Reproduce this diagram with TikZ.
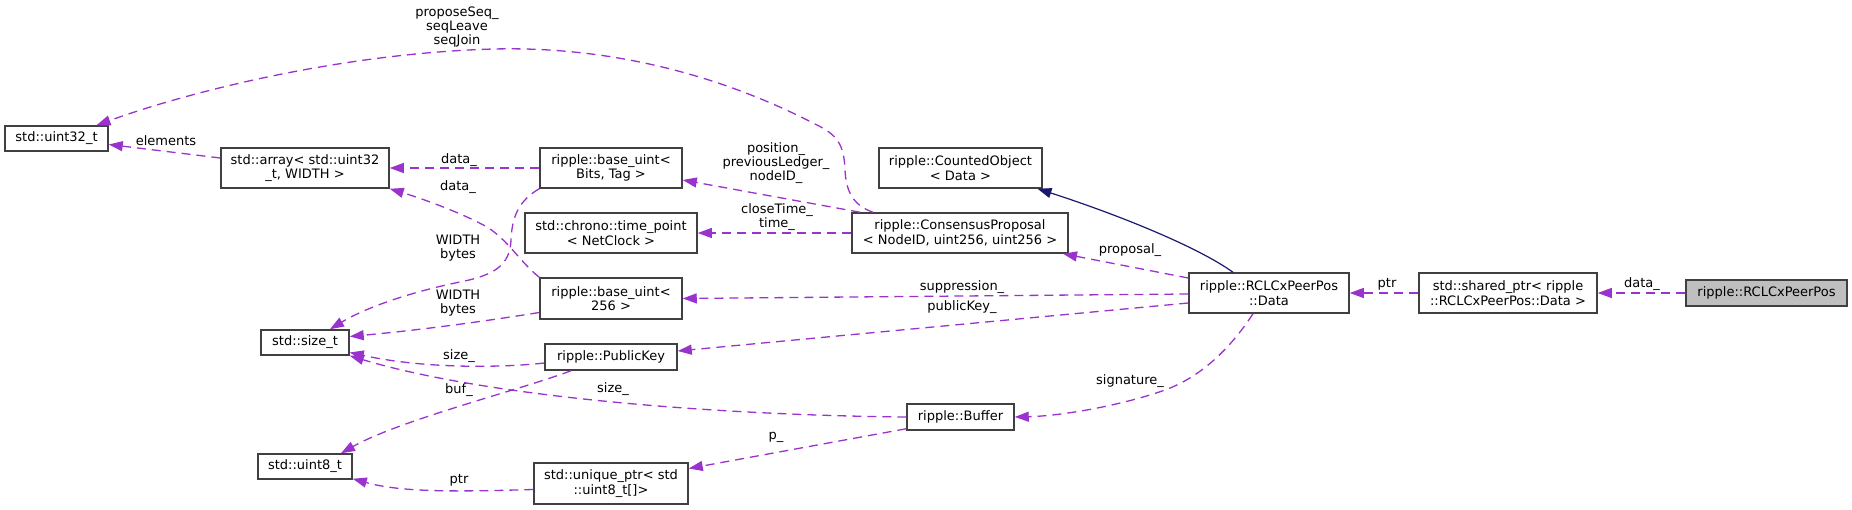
\documentclass[tikz,border=0pt]{standalone}
\usepackage{fontspec}
\setmainfont{DejaVu Sans}
\usetikzlibrary{arrows.meta,calc}
\definecolor{edgepurple}{HTML}{9A32CD}
\definecolor{navyline}{HTML}{191970}
\definecolor{boxline}{HTML}{404040}
\definecolor{mainfill}{HTML}{BFBFBF}
\tikzset{
  cls/.style={draw=boxline, line width=1.5pt, fill=white, rectangle, align=center, inner sep=0pt,
    font=\fontsize{13}{14.5}\selectfont},
  lbl/.style={align=center, inner sep=0pt, font=\fontsize{13}{14}\selectfont},
  use/.style={draw=edgepurple, line width=1.3pt, dash pattern=on 9pt off 6pt,
    -{Triangle[length=14pt,width=10pt,fill=edgepurple]}},
  inh/.style={draw=navyline, line width=1.2pt,
    -{Triangle[length=14pt,width=10pt,fill=navyline]}}
}
\begin{document}
\begin{tikzpicture}[x=1pt,y=-1pt]
\useasboundingbox (0,0) rectangle (1852,510);
% classes
\node[cls, minimum width=103pt, minimum height=25pt] (u32) at (56.5,138.5) {std::uint32\_t};
\node[cls, minimum width=168pt, minimum height=40pt] (arr) at (305,168) {std::array< std::uint32\\\_t, WIDTH >};
\node[cls, minimum width=142pt, minimum height=40pt] (bits) at (611,168) {ripple::base\_uint<\\Bits, Tag >};
\node[cls, minimum width=163pt, minimum height=40pt] (co) at (960.5,168) {ripple::CountedObject\\< Data >};
\node[cls, minimum width=172pt, minimum height=40pt] (chrono) at (611,233) {std::chrono::time\_point\\< NetClock >};
\node[cls, minimum width=216pt, minimum height=40pt] (cp) at (960,233) {ripple::ConsensusProposal\\< NodeID, uint256, uint256 >};
\node[cls, minimum width=142pt, minimum height=41pt] (b256) at (611,298.5) {ripple::base\_uint<\\256 >};
\node[cls, minimum width=88pt, minimum height=25pt] (sz) at (305,342.5) {std::size\_t};
\node[cls, minimum width=132pt, minimum height=26pt] (pk) at (611,357) {ripple::PublicKey};
\node[cls, minimum width=107pt, minimum height=26pt] (buf) at (960.5,417) {ripple::Buffer};
\node[cls, minimum width=94pt, minimum height=25pt] (u8) at (305,466.5) {std::uint8\_t};
\node[cls, minimum width=154pt, minimum height=41pt] (up) at (611,483.5) {std::unique\_ptr< std\\::uint8\_t[]>};
\node[cls, minimum width=160pt, minimum height=40pt] (data) at (1269,293) {ripple::RCLCxPeerPos\\::Data};
\node[cls, minimum width=178pt, minimum height=40pt] (sp) at (1508,293) {std::shared\_ptr< ripple\\::RCLCxPeerPos::Data >};
\node[cls, fill=mainfill, minimum width=161pt, minimum height=26pt] (rc) at (1766.5,293) {ripple::RCLCxPeerPos};

% edges
\draw[use] (rc.west) -- (sp.east);
\node[lbl] (l1) at (1642,284) {data\_};
\draw[use] (sp.west) -- (data.east);
\node[lbl] (l2) at (1387,284) {ptr};
\draw[inh] ($(data.north)+(-36,0)$) .. controls (1195,245) and (1110,212) .. ($(co.south)+(77,0)$);
\draw[use] ($(data.west)+(0,-15)$) -- ($(cp.south)+(103,0)$);
\node[lbl] (l3) at (1130,250) {proposal\_};
\draw[use] ($(data.west)+(0,1)$) -- (b256.east);
\node[lbl] (l4) at (962,287) {suppression\_};
\draw[use] ($(data.west)+(0,10)$) -- ($(pk.east)+(0,-6)$);
\node[lbl] (l5) at (962,307) {publicKey\_};
\draw[use] ($(data.south)+(-16,0)$) .. controls (1228,352) and (1198,378) .. (1165,390)
   .. controls (1120,406) and (1060,416) .. (buf.east);
\node[lbl] (l6) at (1130,381) {signature\_};
\draw[use] ($(cp.north)+(-100,0)$) -- ($(bits.east)+(0,12)$);
\node[lbl] (l7) at (776,163) {position\_\\previousLedger\_\\nodeID\_};
\draw[use] (cp.west) -- (chrono.east);
\node[lbl] (l8) at (777,217) {closeTime\_\\time\_};
\draw[use] ($(cp.north)+(-87,0)$) .. controls (852,205) and (846,190) .. (845,170)
   .. controls (844,145) and (838,135) .. (815,124)
   .. controls (730,80) and (620,46) .. (494,49)
   .. controls (350,53) and (200,88) .. ($(u32.north)+(40,0)$);
\node[lbl] (l9) at (457,27) {proposeSeq\_\\seqLeave\\seqJoin};
\draw[use] (bits.west) -- (arr.east);
\node[lbl] (l10) at (459,160) {data\_};
\draw[use] (bits.south west) .. controls (520,200) and (512,215) .. (511,240)
   .. controls (510,265) and (495,275) .. (460,282)
   .. controls (420,290) and (370,305) .. ($(sz.north)+(25,0)$);
\node[lbl] (l11) at (458,248) {WIDTH\\bytes};
\draw[use] (b256.north west) .. controls (520,262) and (508,240) .. (487,227)
   .. controls (460,212) and (420,198) .. (arr.south east);
\node[lbl] (l12) at (458,187) {data\_};
\draw[use] ($(b256.west)+(0,14)$) .. controls (480,322) and (420,330) .. ($(sz.east)+(0,-6)$);
\node[lbl] (l13) at (458,303) {WIDTH\\bytes};
\draw[use] ($(arr.west)+(0,-10)$) -- ($(u32.east)+(0,6)$);
\node[lbl] (l14) at (166,141) {elements};
\draw[use] ($(pk.west)+(0,6)$) .. controls (510,367) and (430,370) .. ($(sz.east)+(0,10)$);
\node[lbl] (l15) at (459,356) {size\_};
\draw[use] ($(pk.south)+(-40,0)$) .. controls (520,390) and (400,420) .. ($(u8.north)+(36,0)$);
\node[lbl] (l16) at (459,390) {buf\_};
\draw[use] (buf.west) .. controls (700,415) and (480,395) .. (sz.south east);
\node[lbl] (l17) at (613,389) {size\_};
\draw[use] ($(buf.south west)+(0,-2)$) -- ($(up.east)+(0,-15)$);
\node[lbl] (l18) at (776,437) {p\_};
\draw[use] ($(up.west)+(0,6)$) .. controls (450,492) and (400,492) .. ($(u8.south east)+(0,-1)$);
\node[lbl] (l19) at (459,480) {ptr};
\end{tikzpicture}
\end{document}
